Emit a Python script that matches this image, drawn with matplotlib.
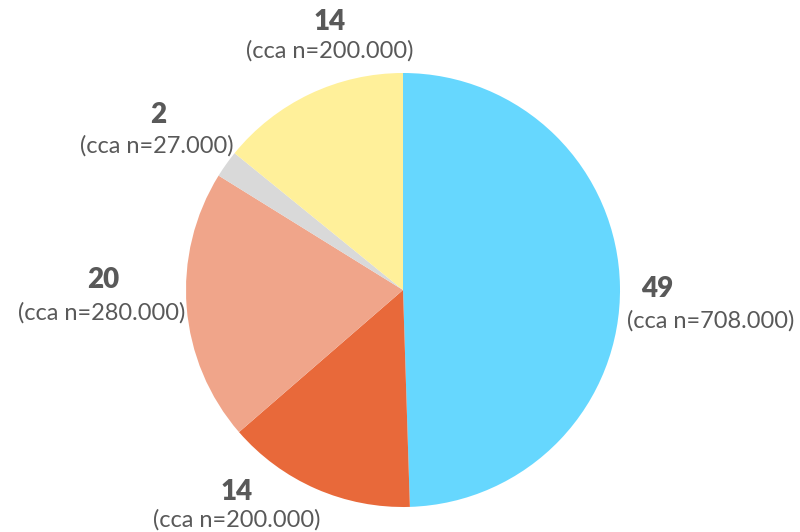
import matplotlib.pyplot as plt

values = [49, 14, 20, 2, 14]
pct_labels = ["49", "14", "20", "2", "14"]
n_labels = ["(cca n=708.000)", "(cca n=200.000)", "(cca n=280.000)",
            "(cca n=27.000)", "(cca n=200.000)"]
colors = ["#66D7FE", "#E8693A", "#F0A58A", "#D9D9D9", "#FFF09A"]

# label anchor positions in pixels (number line, n line)
num_pos = [(657, 289), (237, 492), (103, 280), (158, 115), (330, 22)]
n_pos = [(711, 321), (237, 520), (102, 313), (157, 146), (330, 51)]

W, H = 800, 532
fig = plt.figure(figsize=(W / 100, H / 100), dpi=100)
cx, cy, r = 403, 290, 217
ax = fig.add_axes([(cx - r) / W, (H - cy - r) / H, 2 * r / W, 2 * r / H])
ax.pie(values, colors=colors, startangle=90, counterclock=False, radius=1,
       wedgeprops=dict(linewidth=0))
ax.set_xlim(-1, 1)
ax.set_ylim(-1, 1)
ax.set_aspect("auto")
ax.axis("off")

txt_color = "#595959"
for i in range(len(values)):
    x, y = num_pos[i]
    fig.text(x / W, 1 - y / H, pct_labels[i], ha="center", va="center",
             fontsize=20, fontweight="heavy", color=txt_color, family="Lato")
    x, y = n_pos[i]
    fig.text(x / W, 1 - y / H, n_labels[i], ha="center", va="center",
             fontsize=17, color=txt_color, family="Lato")

fig.savefig("out.png", dpi=100)
